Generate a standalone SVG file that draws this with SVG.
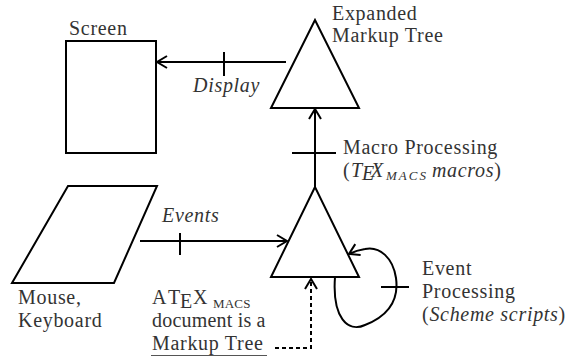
<svg xmlns="http://www.w3.org/2000/svg" width="571" height="358" viewBox="0 0 571 358">
<defs>
<style>
.shape{fill:none;stroke:#000;stroke-width:2;stroke-linejoin:miter}
.ln{fill:none;stroke:#000;stroke-width:2}
.t{font-family:Tinos,"Nimbus Roman","Nimbus Roman No9 L","Noto Serif",FreeSerif,"Times New Roman",Times,"Liberation Serif","DejaVu Serif",serif;font-size:20px;fill:#333;letter-spacing:0.7px}
.i{font-style:italic}
.s{font-size:13px}
</style>
<marker id="arr" viewBox="-12 -8 14 16" refX="0" refY="0" markerWidth="14" markerHeight="16" orient="auto" markerUnits="userSpaceOnUse">
<path d="M-10,-6 L0,0 L-10,6" fill="none" stroke="#000" stroke-width="2"/>
</marker>
</defs>
<rect width="571" height="358" fill="#fff"/>

<g id="screen">
<rect class="shape" x="66" y="41" width="90" height="112"/>
<text class="t" x="69" y="35">Screen</text>
</g>

<g id="expanded-tree">
<polygon class="shape" points="315,20 271,108 359,108"/>
<text class="t" x="332" y="20">Expanded</text>
<text class="t" x="332" y="42">Markup Tree</text>
</g>

<g id="markup-tree">
<polygon class="shape" points="315,187 271,277 359,277"/>
</g>

<g id="input">
<polygon class="shape" points="68,186 157,186 114,283 12,283"/>
<text class="t" x="18" y="304">Mouse,</text>
<text class="t" x="18" y="327">Keyboard</text>
</g>

<g id="doc-label">
<text class="t" x="152" y="304">A<tspan x="168">T</tspan><tspan x="180" y="308">E</tspan><tspan x="193" y="304">X</tspan><tspan x="213" y="308" class="s" style="letter-spacing:0.2px">MACS</tspan></text>
<text class="t" x="152" y="327" style="letter-spacing:0.2px">document is a</text>
<text class="t" x="152" y="350">Markup Tree</text>
<line class="ln" x1="151" y1="355.5" x2="267" y2="355.5" style="stroke:#555;stroke-width:1.2"/>
</g>

<g id="connectors">
<line class="ln" x1="286" y1="62" x2="157" y2="62" marker-end="url(#arr)"/>
<line class="ln" x1="224" y1="52" x2="224" y2="76"/>
<text class="t i" x="193" y="92">Display</text>
<line class="ln" x1="315" y1="187" x2="315" y2="109" marker-end="url(#arr)"/>
<line class="ln" x1="292" y1="153" x2="336" y2="153"/>
<text class="t" x="343" y="154">Macro Processing</text>
<text class="t" x="343" y="177">(<tspan class="i" x="351">T</tspan><tspan class="i" x="362" y="180">E</tspan><tspan class="i" x="371" y="177">X</tspan><tspan class="i s" x="386" y="180" style="letter-spacing:2px">MACS</tspan><tspan class="i" dx="4" y="177">macros</tspan>)</text>
<line class="ln" x1="140" y1="241" x2="287" y2="241" marker-end="url(#arr)"/>
<line class="ln" x1="180" y1="233" x2="180" y2="255"/>
<text class="t i" x="162" y="222">Events</text>
<path class="ln" d="M335,277 C332,318 348,333 365,325 C388,316 399,300 396,278 C393,258 380,246 365,249 C358,250 353,252 349,254" marker-end="url(#arr)"/>
<line class="ln" x1="381" y1="287" x2="409" y2="287"/>
<text class="t" x="422" y="275">Event</text>
<text class="t" x="422" y="298">Processing</text>
<text class="t" x="422" y="321">(<tspan class="i">Scheme scripts</tspan>)</text>
<path class="ln" d="M275,348 L311,348 L311,279" stroke-dasharray="4,3" marker-end="url(#arr)"/>
</g>
</svg>
